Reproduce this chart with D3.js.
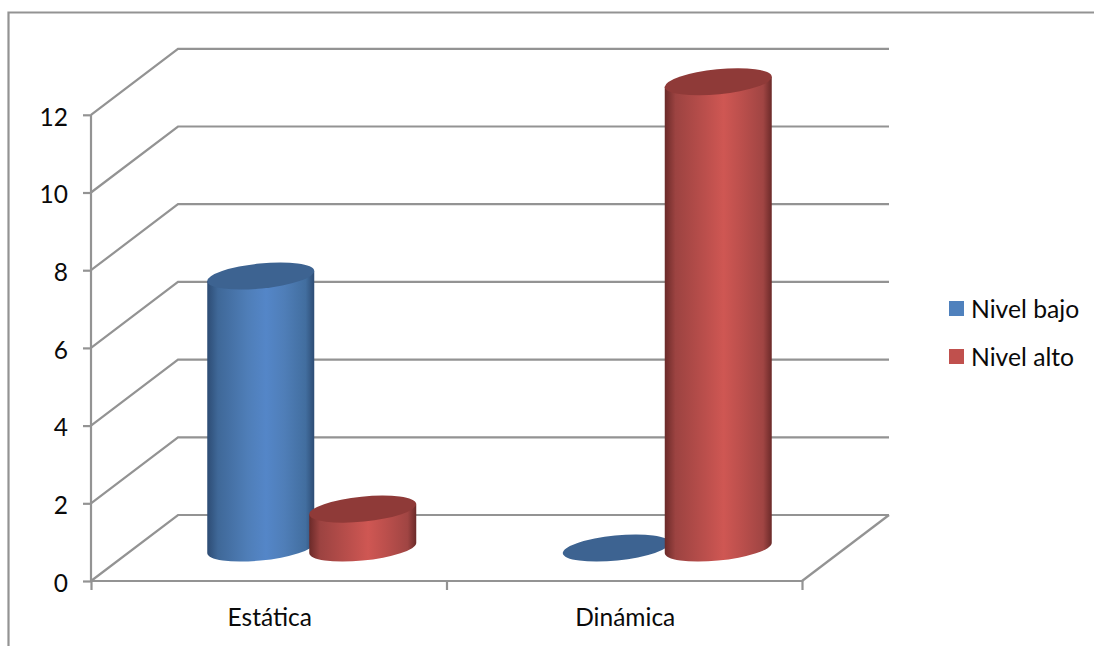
<!DOCTYPE html>
<html><head><meta charset="utf-8">
<script src="https://cdn.jsdelivr.net/npm/d3@7"></script>
<style>
html,body{margin:0;padding:0;background:#fff;overflow:hidden}
svg{display:block}
text{font-family:Lato,"Open Sans",sans-serif;fill:#0a0a0a}
</style></head><body>
<svg id="c" width="1094" height="646"></svg>
<script>
const categories = ["Estática", "Dinámica"];
const seriesNames = ["Nivel bajo", "Nivel alto"];
const nivelBajo = [7, 0];
const nivelAlto = [1, 12];
const yTicks = [0, 2, 4, 6, 8, 10, 12];

const svg = d3.select("#c");
const grey = "#939393";
const depthX = 87, depthY = 66;
const x = d3.scaleBand().domain(categories).range([91, 802]);
const y = d3.scaleLinear().domain([0, 12]).range([581, 114.8]);
const series = [
  {name: seriesNames[0], values: nivelBajo, stops: ["#2d4c74", "#3f6898", "#4f7eb8", "#5486c8", "#4f7eb8", "#426e9f", "#2d4c74"], top: "#3d6391", key: "#4f81bd"},
  {name: seriesNames[1], values: nivelAlto, stops: ["#6b2a29", "#9c4341", "#bb4f4c", "#cf5753", "#bb4f4c", "#a04543", "#6b2a29"], top: "#8f3a38", key: "#c0504d"}
];
const stopOffsets = [0, 0.1, 0.38, 0.55, 0.72, 0.92, 1];

svg.append("path").attr("d", d3.line()([[8.5, 646], [8.5, 12.5], [1094, 12.5]]))
  .attr("fill", "none").attr("stroke", grey).attr("stroke-width", 2.2);

const [x0, x1] = x.range();
const wall = svg.append("g").attr("fill", "none").attr("stroke", grey).attr("stroke-width", 2.2);
yTicks.forEach(t => {
  wall.append("path").attr("d", d3.line()([
    [x0, y(t)], [x0 + depthX, y(t) - depthY], [x1 + depthX, y(t) - depthY]
  ]));
});
wall.append("path").attr("d", d3.line()([[x1, y(0)], [x1 + depthX, y(0) - depthY]]));

const axisY = d3.axisLeft(y).tickValues(yTicks).tickSize(8).tickPadding(15).tickFormat(d3.format("d"));
const gy = svg.append("g").attr("transform", `translate(${x0},0)`).call(axisY);
const axisX = d3.axisBottom(d3.scalePoint().domain([0, 1, 2]).range([x0, x1])).tickSize(9).tickFormat("");
const gx = svg.append("g").attr("transform", `translate(0,${y(0)})`).call(axisX);
[gy, gx].forEach(g => {
  g.selectAll("path.domain").attr("stroke", grey).attr("stroke-width", 2.2);
  g.selectAll("line").attr("stroke", grey).attr("stroke-width", 2.2);
});
gy.selectAll("path.domain").attr("d", `M0,${y(12)}V${y(0)}`);
gx.selectAll("path.domain").attr("d", `M${x0},0H${x1}`);
gy.selectAll("text").attr("font-size", 24.5).attr("dy", "0.42em").attr("fill", "#0a0a0a");

svg.append("g").selectAll("text").data(categories).join("text")
  .attr("x", d => x(d) + x.bandwidth() / 2 + 1)
  .attr("y", 626).attr("text-anchor", "middle").attr("font-size", 24.5).text(d => d);

const defs = svg.append("defs");
series.forEach((s, i) => {
  const g = defs.append("linearGradient").attr("id", "g" + i);
  stopOffsets.forEach((o, k) => g.append("stop").attr("offset", o).attr("stop-color", s.stops[k]));
});

const spacing = 102;
const hw = 53.5, skew = 5, rx = 53.75, ry = 12.5, tilt = -5.7;
const marks = svg.append("g");
categories.forEach((cat, ci) => {
  series.forEach((s, si) => {
    const v = s.values[ci];
    const cx = x(cat) + x.bandwidth() / 2 + depthX / 2 + (si - 0.5) * spacing - 0.5;
    const base = y(0) - depthY / 2;
    const top = y(v) - depthY / 2;
    const g = marks.append("g");
    if (v > 0) {
      g.append("path").attr("fill", `url(#g${si})`).attr("d",
        `M${cx - hw},${top + skew}V${base + skew}` +
        `A${rx},${ry} ${tilt} 0 0 ${cx + hw},${base - skew}` +
        `V${top - skew}Z`);
    }
    g.append("ellipse").attr("rx", rx).attr("ry", ry)
      .attr("transform", `translate(${cx},${top}) rotate(${tilt})`)
      .attr("fill", s.top);
  });
});

const lg = svg.append("g").selectAll("g").data(series).join("g")
  .attr("transform", (d, i) => `translate(949,${301 + i * 48})`);
lg.append("rect").attr("width", 15).attr("height", 15).attr("fill", d => d.key);
lg.append("text").attr("x", 22).attr("y", 17).attr("font-size", 24.7).text(d => d.name);
</script>
</body></html>
